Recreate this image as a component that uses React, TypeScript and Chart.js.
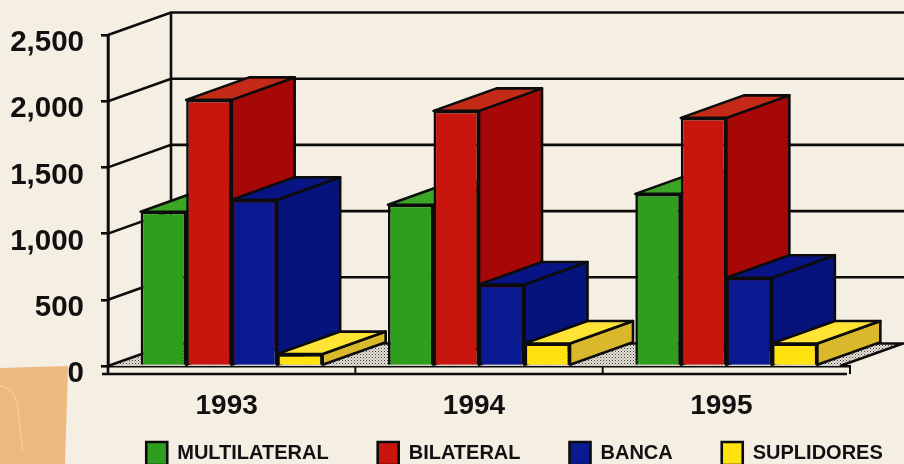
import React, { useEffect, useRef } from "react";
import { Chart, registerables } from "chart.js";

Chart.register(...registerables);

const years = ["1993", "1994", "1995"];
const multilateral = [1165, 1218, 1300];
const bilateral = [2010, 1927, 1874];
const banca = [1255, 615, 667];
const suplidores = [90, 170, 170];

const seriesNames = ["MULTILATERAL", "BILATERAL", "BANCA", "SUPLIDORES"];
const frontColors = ["#2f9e1e", "#c8160e", "#0a1a90", "#ffe20e"];
const topColors = ["#3ba626", "#c42a18", "#081484", "#ffe335"];
const sideColors = ["#24851a", "#a60808", "#07137c", "#d9b92b"];

const INK = "#0c0c0c";
const PAPER = "#f5eee2";
const FONT = "'Liberation Sans', Arial, sans-serif";
const DEPTH_X = 63;
const DEPTH_Y = -22.5;

function poly(ctx: CanvasRenderingContext2D, pts: number[][], fill: string | CanvasPattern | null, lw = 2.6) {
  ctx.beginPath();
  pts.forEach((p, i) => (i ? ctx.lineTo(p[0], p[1]) : ctx.moveTo(p[0], p[1])));
  ctx.closePath();
  if (fill) {
    ctx.fillStyle = fill;
    ctx.fill();
  }
  if (lw > 0) {
    ctx.lineWidth = lw;
    ctx.strokeStyle = INK;
    ctx.lineJoin = "round";
    ctx.stroke();
  }
}

function line(ctx: CanvasRenderingContext2D, pts: number[][], lw = 2.6) {
  ctx.beginPath();
  pts.forEach((p, i) => (i ? ctx.lineTo(p[0], p[1]) : ctx.moveTo(p[0], p[1])));
  ctx.lineWidth = lw;
  ctx.strokeStyle = INK;
  ctx.lineJoin = "miter";
  ctx.stroke();
}

function speckle(ctx: CanvasRenderingContext2D) {
  const c = document.createElement("canvas");
  c.width = 3;
  c.height = 3;
  const g = c.getContext("2d")!;
  g.fillStyle = "#e6e1d6";
  g.fillRect(0, 0, 3, 3);
  g.fillStyle = "#3a3a3a";
  g.fillRect(0, 0, 1, 1);
  g.fillStyle = "#77746e";
  g.fillRect(1.5, 1.5, 1, 1);
  return ctx.createPattern(c, "repeat");
}

const paperPlugin = {
  id: "paper",
  beforeDraw(chart: any) {
    const { ctx, width, height } = chart;
    ctx.save();
    ctx.fillStyle = PAPER;
    ctx.fillRect(0, 0, width, height);
    poly(ctx, [[0, 368], [68, 366], [65, 464], [0, 464]], "#edb97e", 0);
    ctx.beginPath();
    ctx.moveTo(0, 386);
    ctx.bezierCurveTo(14, 388, 18, 400, 19, 420);
    ctx.lineTo(23, 450);
    ctx.lineWidth = 1.5;
    ctx.strokeStyle = "#f4cc9c";
    ctx.stroke();
    ctx.restore();
    // the year labels hang below the short axis box, so open its label area
    chart.scales.x.bottom = height;
    // the legend keeps its native drawing, only its box is placed
    const lg = chart.legend;
    if (lg) {
      const shift = 514.5 - (lg.left + lg.right) / 2;
      lg.left += shift;
      lg.right += shift;
      lg.top = 393;
      lg.bottom = lg.top + lg.height;
    }
  },
};

const box3dPlugin = {
  id: "box3d",
  beforeDatasetsDraw(chart: any) {
    const { ctx, width } = chart;
    const xs = chart.scales.x;
    const ys = chart.scales.y;
    const b0 = ys.getPixelForValue(0);
    ctx.save();

    // floor
    poly(
      ctx,
      [
        [xs.left, b0],
        [xs.right - 10, b0],
        [903, b0 + DEPTH_Y],
        [xs.left + DEPTH_X, b0 + DEPTH_Y],
      ],
      speckle(ctx),
      0
    );

    // walls
    ys.ticks.forEach((t: any) => {
      const y = ys.getPixelForValue(t.value);
      if (t.value > 0) {
        line(ctx, [
          [xs.left, y],
          [xs.left + DEPTH_X, y + DEPTH_Y],
          [width, y + DEPTH_Y],
        ]);
      }
    });
    line(ctx, [
      [xs.left + DEPTH_X, ys.top + DEPTH_Y],
      [xs.left + DEPTH_X, b0 + DEPTH_Y],
    ]);
    line(ctx, [
      [xs.left, b0],
      [xs.left + DEPTH_X, b0 + DEPTH_Y],
      [903, b0 + DEPTH_Y],
      [xs.right - 10, b0],
    ]);

    // front lip of the floor
    const lipY = b0 + 8;
    line(ctx, [[xs.left, ys.top], [xs.left, lipY]]);
    line(ctx, [[xs.left - 6, lipY], [xs.right - 3, lipY]]);
    years.forEach((_, i) => {
      const tx = xs.left + ((i + 1) * (xs.right - xs.left)) / years.length;
      line(ctx, [[tx, b0 + 1], [tx, lipY]], 2);
    });

    // side and top of every bar, left to right; the fronts are the native bars
    years.forEach((_, c) => {
      seriesNames.forEach((__, s) => {
        const el = chart.getDatasetMeta(s).data[c];
        const { x, y, base, width: w } = el.getProps(["x", "y", "base", "width"], true);
        const l = x - w / 2;
        const r = x + w / 2;
        poly(
          ctx,
          [
            [r, y],
            [r + DEPTH_X, y + DEPTH_Y],
            [r + DEPTH_X, base + DEPTH_Y],
            [r, base],
          ],
          sideColors[s]
        );
        poly(
          ctx,
          [
            [l, y],
            [l + DEPTH_X, y + DEPTH_Y],
            [r + DEPTH_X, y + DEPTH_Y],
            [r, y],
          ],
          topColors[s]
        );
      });
    });
    ctx.restore();
  },
};

export default function App() {
  const ref = useRef<HTMLCanvasElement>(null);

  useEffect(() => {
    document.body.style.margin = "0";
    document.body.style.background = PAPER;
    const values = [multilateral, bilateral, banca, suplidores];
    const chart = new Chart(ref.current!, {
      type: "bar",
      data: {
        labels: years,
        datasets: seriesNames.map((label, i) => ({
          label,
          data: values[i],
          backgroundColor: frontColors[i],
          borderColor: INK,
          borderWidth: 2.6,
          categoryPercentage: 0.736,
          barPercentage: 1,
        })),
      },
      options: {
        responsive: false,
        animation: false,
        events: [],
        layout: { padding: { top: 35, right: 54, left: 0, bottom: 0 } },
        plugins: {
          tooltip: { enabled: false },
          title: { display: false },
          legend: {
            display: true,
            position: "bottom",
            labels: {
              boxWidth: 21,
              boxHeight: 23,
              padding: 49,
              color: "#111",
              font: { family: FONT, size: 20, weight: "bold" },
            },
          },
        },
        scales: {
          x: {
            grid: { display: false },
            border: { display: true, color: INK, width: 2.6 },
            afterFit: (s: any) => {
              s.height = 16;
            },
            ticks: {
              color: "#111",
              padding: 15,
              labelOffset: -5,
              maxRotation: 0,
              font: { family: FONT, size: 28, weight: "bold" },
            },
          },
          y: {
            min: 0,
            max: 2500,
            afterFit: (s: any) => {
              s.width = 108;
            },
            grid: {
              drawOnChartArea: false,
              drawTicks: true,
              tickLength: 7,
              color: INK,
              lineWidth: 2.6,
            },
            border: { display: true, color: INK, width: 2.6 },
            ticks: {
              stepSize: 500,
              padding: 17,
              labelOffset: 8,
              color: "#111",
              font: { family: FONT, size: 29.5, weight: "bold" },
              callback: (v: any) => Number(v).toLocaleString("en-US"),
            },
          },
        },
      },
      plugins: [paperPlugin, box3dPlugin],
    } as any);
    return () => chart.destroy();
  }, []);

  return <canvas ref={ref} width={904} height={464} style={{ display: "block" }} />;
}
